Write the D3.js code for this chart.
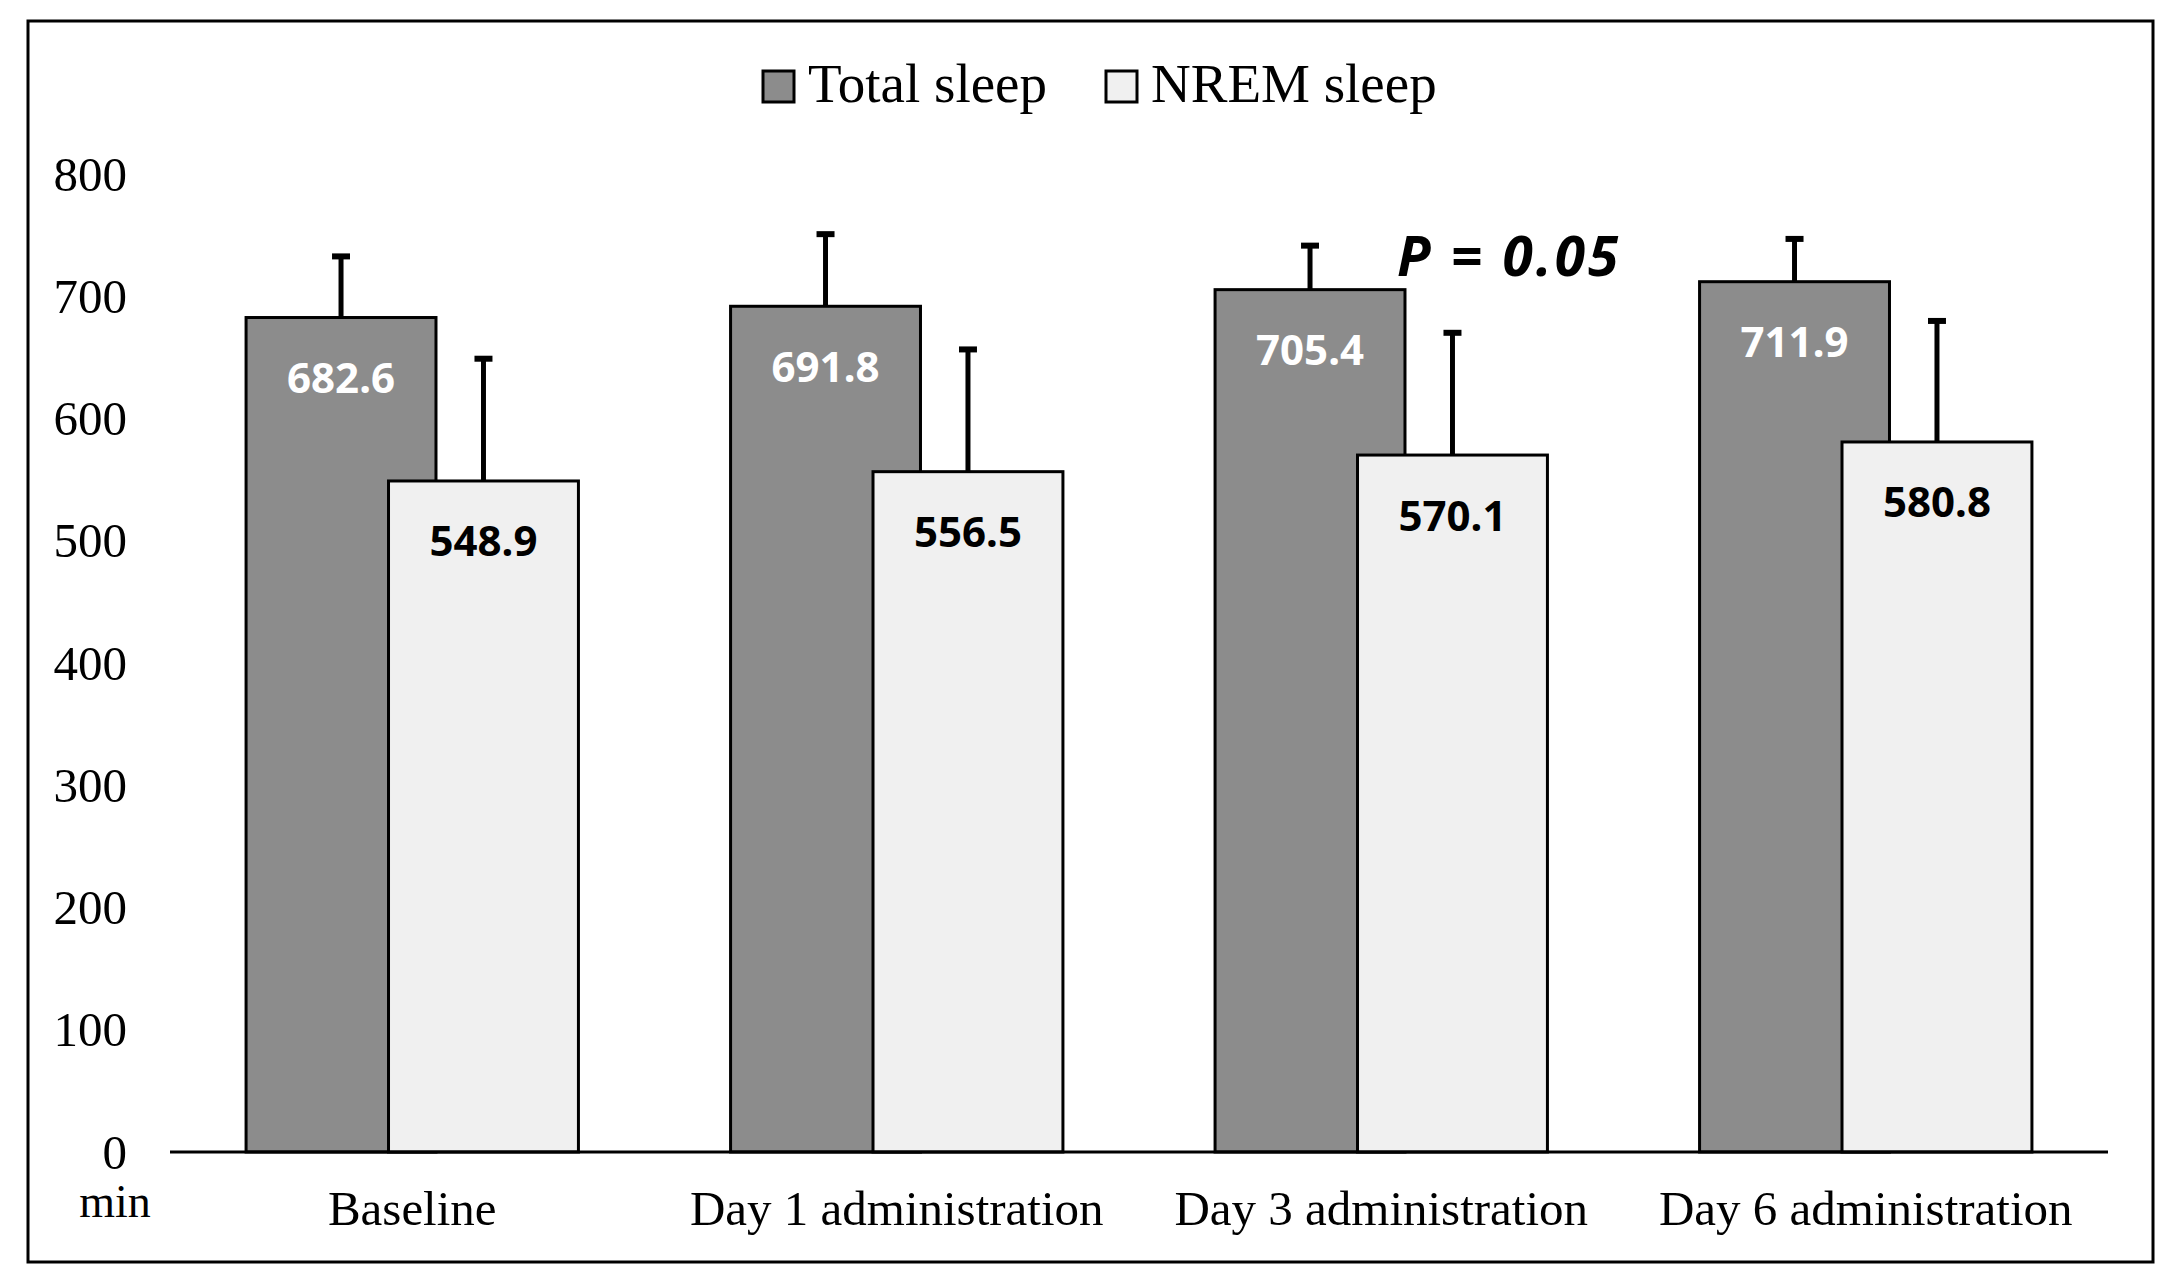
<!DOCTYPE html>
<html>
<head>
<meta charset="utf-8">
<script src="https://cdn.jsdelivr.net/npm/d3@7"></script>
<style>
  html, body { margin: 0; padding: 0; background: #fff; }
  svg { display: block; }
</style>
</head>
<body>
<svg id="chart" width="2184" height="1279"></svg>
<script>
// ---- data ----
const categories = ["Baseline", "Day 1 administration", "Day 3 administration", "Day 6 administration"];
const seriesNames = ["Total sleep", "NREM sleep"];
const totalSleep = [682.6, 691.8, 705.4, 711.9];
const totalSleepSD = [50, 59, 36, 35];
const nremSleep = [548.9, 556.5, 570.1, 580.8];
const nremSleepSD = [100, 100, 100, 99];
const yTicks = [0, 100, 200, 300, 400, 500, 600, 700, 800];
const yUnit = "min";
const annotationText = "P = 0.05";
const annotationCategory = "Day 3 administration";
const annotationValue = 734;

// ---- layout ----
const svg = d3.select("#chart");
const serif = "'Liberation Serif', 'Times New Roman', serif";
const sans = "'Noto Sans', 'Open Sans', sans-serif";
const colors = ["#8c8c8c", "#f0f0f0"];

// frame
svg.append("rect").attr("x", 28).attr("y", 21).attr("width", 2125).attr("height", 1241)
  .attr("fill", "#fff").attr("stroke", "#000").attr("stroke-width", 3);

const x0 = d3.scaleBand().domain(categories).range([170, 2108]).paddingInner(0).paddingOuter(0);
const y = d3.scaleLinear().domain([0, 800]).range([1152, 174]);

const bw = x0.bandwidth();
const barW = bw * 0.392;
const step = bw * 0.294;
const pairW = step + barW;
const offset = (bw - pairW) / 2;

const rows = categories.map((c, i) => ({
  cat: c,
  vals: [
    { s: 0, v: totalSleep[i], sd: totalSleepSD[i] },
    { s: 1, v: nremSleep[i], sd: nremSleepSD[i] }
  ]
}));

// y tick labels
svg.append("g").selectAll("text").data(yTicks).join("text")
  .attr("x", 127).attr("y", d => y(d))
  .attr("text-anchor", "end").attr("dominant-baseline", "central")
  .attr("font-family", serif).attr("font-size", 49).attr("fill", "#000")
  .text(d => d);
svg.append("text").attr("x", 115).attr("y", 1217).attr("text-anchor", "middle")
  .attr("font-family", serif).attr("font-size", 46).text(yUnit);

// bars and error bars
const g = svg.append("g");
[0, 1].forEach(s => {
  rows.forEach(r => {
    const d = r.vals[s];
    const bx = x0(r.cat) + offset + s * step;
    const cx = bx + barW / 2;
    g.append("line").attr("x1", cx).attr("x2", cx)
      .attr("y1", y(d.v)).attr("y2", y(d.v + d.sd))
      .attr("stroke", "#000").attr("stroke-width", 5);
    g.append("line").attr("x1", cx - 9).attr("x2", cx + 9)
      .attr("y1", y(d.v + d.sd)).attr("y2", y(d.v + d.sd))
      .attr("stroke", "#000").attr("stroke-width", 6);
    g.append("rect").attr("x", bx).attr("y", y(d.v))
      .attr("width", barW).attr("height", y(0) - y(d.v))
      .attr("fill", colors[s]).attr("stroke", "#000").attr("stroke-width", 3);
  });
});
// value labels
[0, 1].forEach(s => {
  rows.forEach(r => {
    const d = r.vals[s];
    const cx = x0(r.cat) + offset + s * step + barW / 2;
    g.append("text").attr("x", cx).attr("y", y(d.v) + 59)
      .attr("text-anchor", "middle").attr("dominant-baseline", "central")
      .attr("font-family", sans).attr("font-weight", "bold").attr("font-size", 42)
      .attr("fill", s === 0 ? "#fff" : "#000")
      .text(d.v.toFixed(1));
  });
});

// x axis line
svg.append("line").attr("x1", 170).attr("x2", 2108).attr("y1", y(0)).attr("y2", y(0))
  .attr("stroke", "#000").attr("stroke-width", 3);

// x labels
svg.append("g").selectAll("text").data(categories).join("text")
  .attr("x", d => x0(d) + bw / 2).attr("y", 1225)
  .attr("text-anchor", "middle")
  .attr("font-family", serif).attr("font-size", 49).attr("fill", "#000")
  .text(d => d);

// annotation
svg.append("text").attr("x", x0(annotationCategory) + 258).attr("y", y(annotationValue))
  .attr("dominant-baseline", "central")
  .attr("font-family", sans).attr("font-weight", "bold").attr("font-style", "italic")
  .attr("font-size", 55).attr("letter-spacing", 3).text(annotationText);

// legend
const legX = [763, 1106];
const leg = svg.append("g");
seriesNames.forEach((n, i) => {
  leg.append("rect").attr("x", legX[i]).attr("y", 71).attr("width", 31).attr("height", 31)
    .attr("fill", colors[i]).attr("stroke", "#000").attr("stroke-width", 3);
  leg.append("text").attr("x", legX[i] + 45).attr("y", 102)
    .attr("font-family", serif).attr("font-size", 55).text(n);
});
</script>
</body>
</html>
